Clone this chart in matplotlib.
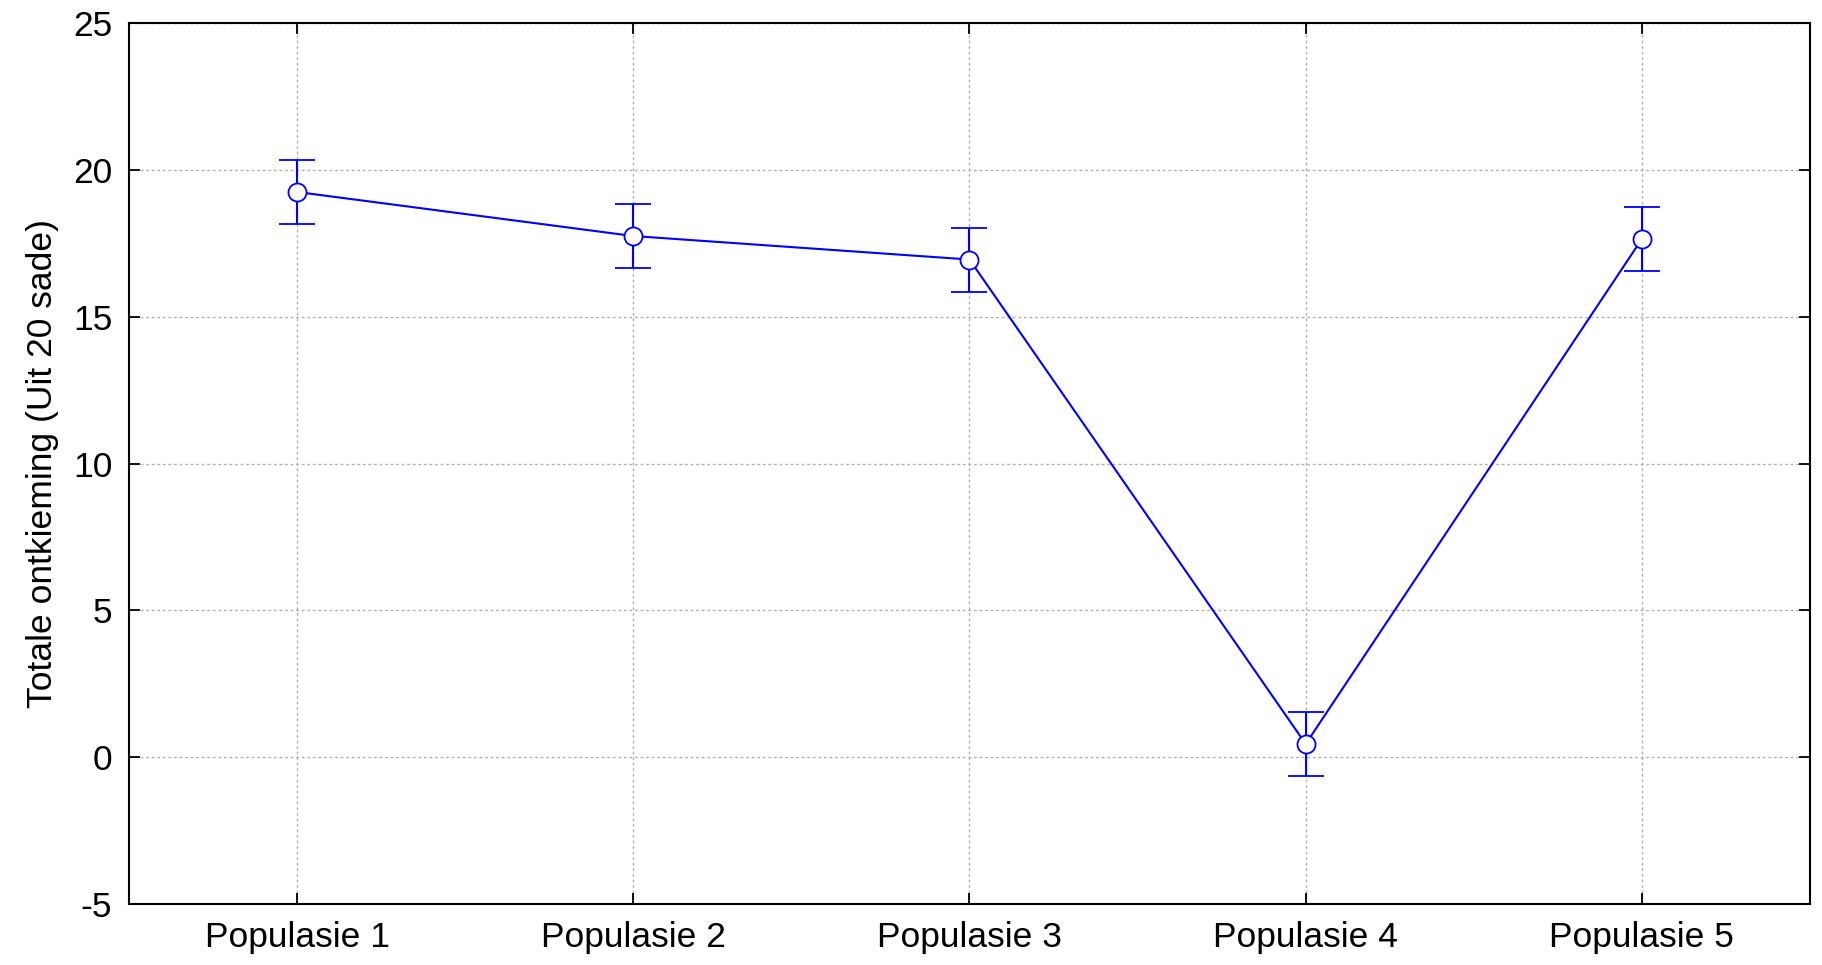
import numpy as np
import matplotlib.pyplot as plt

plt.rcParams['font.family'] = ['Liberation Sans', 'DejaVu Sans']
plt.rcParams['axes.unicode_minus'] = False

# data
populasies = ['Populasie 1', 'Populasie 2', 'Populasie 3', 'Populasie 4', 'Populasie 5']
gemiddeld = [19.25, 17.75, 16.95, 0.45, 17.65]
fout = [1.09, 1.09, 1.09, 1.09, 1.09]
y_ticks = [-5, 0, 5, 10, 15, 20, 25]

x = np.arange(1, len(populasies) + 1)

fig = plt.figure(figsize=(18.22, 9.65), dpi=100)
ax = fig.add_axes([0.0708, 0.0632, 0.9226, 0.9128])

ax.errorbar(x, gemiddeld, yerr=fout, color='#0000ff', lw=1.5,
            marker='o', markersize=13, markerfacecolor='white',
            markeredgecolor='#0000ff', markeredgewidth=1.3,
            capsize=13, capthick=1.5, elinewidth=1.5, zorder=3)

ax.set_xlim(0.5, 5.5)
ax.set_ylim(-5, 25)
ax.set_xticks(x)
ax.set_xticklabels(populasies)
ax.set_yticks(y_ticks)
ax.set_ylabel('Totale ontkieming (Uit 20 sade)', fontsize=25.5, labelpad=10)

ax.grid(True, color='#b0b0b0', linestyle=(0, (2, 2)), lw=1)
ax.tick_params(direction='in', length=8, width=1.3, labelsize=25.5,
               top=True, right=True, pad=12)
for s in ax.spines.values():
    s.set_linewidth(1.5)

fig.savefig('out.png', dpi=100)
